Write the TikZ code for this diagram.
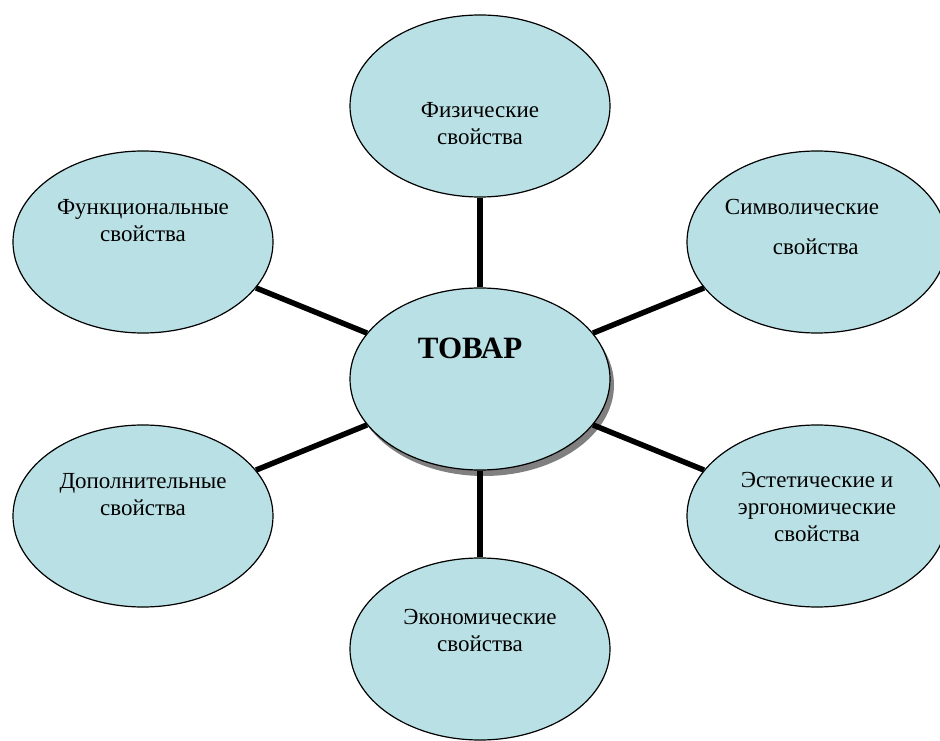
\documentclass[tikz,border=0pt]{standalone}
\usepackage{fontspec}
\setmainfont{Liberation Serif}
\usepackage{xcolor}
\usetikzlibrary{shapes.geometric}
\usetikzlibrary{positioning}
\usetikzlibrary{shadows}
\definecolor{propfill}{RGB}{185,224,228}

\begin{document}
\begin{tikzpicture}[node distance=5cm,on grid,
   prop/.style={ellipse,draw,line width=1.2pt,fill=propfill,minimum width=260pt,minimum height=182pt,inner sep=0pt},
   txt/.style={align=center,font=\fontsize{23}{27}\selectfont},
   link/.style={line width=5.5pt}]
   \useasboundingbox (0,0) rectangle (940pt,740pt);
   \node[prop,drop shadow={shadow xshift=4pt,shadow yshift=-6pt,fill=black!50,opacity=1}] (tovar) at (480pt,361pt) {};
   \node[prop] (fiz) [above=273pt of tovar] {};
   \node[prop] (eko) [below=270pt of tovar] {};
   \node[prop] (fun) [above left=137pt and 337pt of tovar] {};
   \node[prop] (dop) [below left=137pt and 337pt of tovar] {};
   \node[prop] (sim) [above right=137pt and 337pt of tovar] {};
   \node[prop] (est) [below right=137pt and 337pt of tovar] {};
   % texts
   \node[font=\fontsize{31}{36}\selectfont\bfseries] (tovartxt) [above left=31pt and 10pt of tovar] {ТОВАР};
   \node[txt] (fiztxt) [below=17.5pt of fiz] {Физические\\свойства};
   \node[txt] (ekotxt) [above=19pt of eko] {Экономические\\свойства};
   \node[txt] (funtxt) [above=21.5pt of fun] {Функциональные\\свойства};
   \node[txt] (doptxt) [above=21pt of dop] {Дополнительные\\свойства};
   \node[txt,align=left] (simtxt) [above left=15pt and 15pt of sim] {Символические\\[13pt]\hspace*{48pt}свойства};
   \node[txt] (esttxt) [above=9.5pt of est] {Эстетические и\\эргономические\\свойства};
   % links
   \draw[link] (tovar) -- (fiz);
   \draw[link] (tovar) -- (eko);
   \draw[link] (tovar) -- (fun);
   \draw[link] (tovar) -- (dop);
   \draw[link] (tovar) -- (sim);
   \draw[link] (tovar) -- (est);
\end{tikzpicture}
\end{document}
